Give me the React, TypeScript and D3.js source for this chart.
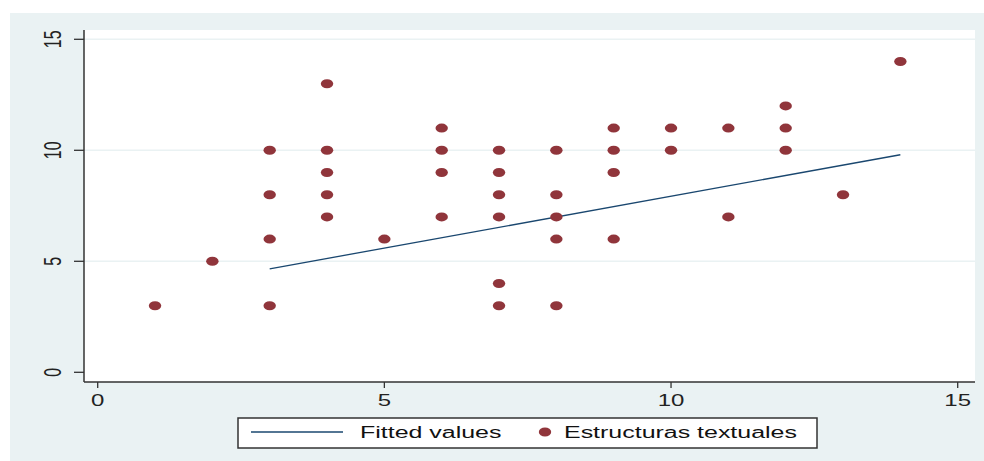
import React, { useRef, useEffect } from 'react';
import * as d3 from 'd3';

// Scatter data: x = category score, y = Estructuras textuales
const pointX = [1, 2, 3, 3, 3, 3, 4, 4, 4, 4, 4, 5, 6, 6, 6, 6, 7, 7, 7, 7, 7, 7, 8, 8, 8, 8, 8, 9, 9, 9, 9, 10, 10, 11, 11, 12, 12, 12, 13, 14];
const pointY = [3, 5, 10, 8, 6, 3, 13, 10, 9, 8, 7, 6, 11, 10, 9, 7, 10, 9, 8, 7, 4, 3, 10, 8, 7, 6, 3, 11, 10, 9, 6, 11, 10, 11, 7, 12, 11, 10, 8, 14];

// Fitted values line (endpoints)
const fitX = [3, 14];
const fitY = [4.66, 9.8];

const xTicks = [0, 5, 10, 15];
const yTicks = [0, 5, 10, 15];
const gridTicks = [5, 10, 15];

const legendLabels = ['Fitted values', 'Estructuras textuales'];

const BG = '#eaf2f3';
const MARKER = '#90353b';
const LINE = '#1a476f';
const INK = '#222';
const STRETCH = 1.5;

const App = () => {
  const svgRef = useRef<SVGSVGElement>(null);

  useEffect(() => {
    const svg = d3.select(svgRef.current);
    svg.selectAll('*').remove();

    const W = 984;
    const H = 461;
    const plot = { left: 84, top: 30, right: 975, bottom: 382 };

    const x = d3.scaleLinear().domain([0, 15]).range([97.7, 957.7]);
    const y = d3.scaleLinear().domain([0, 15]).range([372.3, 39.3]);

    // outer background
    svg.append('rect').attr('x', 10).attr('y', 13).attr('width', W - 10).attr('height', H - 13).attr('fill', BG);

    // plot region
    svg.append('rect')
      .attr('x', plot.left).attr('y', plot.top)
      .attr('width', plot.right - plot.left).attr('height', plot.bottom - plot.top)
      .attr('fill', 'white');

    // grid lines
    svg.append('g').selectAll('line')
      .data(gridTicks)
      .enter()
      .append('line')
      .attr('x1', plot.left).attr('x2', plot.right)
      .attr('y1', d => y(d)).attr('y2', d => y(d))
      .attr('stroke', BG)
      .attr('stroke-width', 1.5);

    // fitted line
    const fitData = fitX.map((v, i) => [v, fitY[i]] as [number, number]);
    svg.append('path')
      .datum(fitData)
      .attr('d', d3.line<[number, number]>().x(d => x(d[0])).y(d => y(d[1])))
      .attr('fill', 'none')
      .attr('stroke', LINE)
      .attr('stroke-width', 1.3);

    // points
    svg.append('g').selectAll('ellipse')
      .data(pointX.map((v, i) => ({ x: v, y: pointY[i] })))
      .enter()
      .append('ellipse')
      .attr('cx', d => x(d.x))
      .attr('cy', d => y(d.y))
      .attr('rx', 6.2)
      .attr('ry', 4.5)
      .attr('fill', MARKER);

    // y axis
    svg.append('line')
      .attr('x1', plot.left).attr('x2', plot.left)
      .attr('y1', plot.top).attr('y2', plot.bottom)
      .attr('stroke', '#333').attr('stroke-width', 1.5);
    const yAxis = svg.append('g');
    yAxis.selectAll('line')
      .data(yTicks)
      .enter()
      .append('line')
      .attr('x1', 74).attr('x2', plot.left)
      .attr('y1', d => y(d)).attr('y2', d => y(d))
      .attr('stroke', '#333').attr('stroke-width', 1.3);
    yAxis.selectAll('text')
      .data(yTicks)
      .enter()
      .append('text')
      .attr('transform', d => `translate(61,${y(d)}) scale(${STRETCH},1) rotate(-90)`)
      .attr('text-anchor', 'middle')
      .style('font-family', 'Liberation Sans, Arial, sans-serif')
      .style('font-size', '16px')
      .style('fill', INK)
      .text(d => d);

    // x axis
    svg.append('line')
      .attr('x1', plot.left).attr('x2', plot.right)
      .attr('y1', plot.bottom).attr('y2', plot.bottom)
      .attr('stroke', '#333').attr('stroke-width', 1.5);
    const xAxis = svg.append('g');
    xAxis.selectAll('line')
      .data(xTicks)
      .enter()
      .append('line')
      .attr('x1', d => x(d)).attr('x2', d => x(d))
      .attr('y1', plot.bottom).attr('y2', 388)
      .attr('stroke', '#333').attr('stroke-width', 1.3);
    xAxis.selectAll('text')
      .data(xTicks)
      .enter()
      .append('text')
      .attr('transform', d => `translate(${x(d)},406) scale(${STRETCH},1)`)
      .attr('text-anchor', 'middle')
      .style('font-family', 'Liberation Sans, Arial, sans-serif')
      .style('font-size', '16px')
      .style('fill', INK)
      .text(d => d);

    // legend
    const legend = svg.append('g');
    legend.append('rect')
      .attr('x', 238).attr('y', 418).attr('width', 579).attr('height', 30)
      .attr('fill', 'white').attr('stroke', '#333').attr('stroke-width', 1.5);
    legend.append('line')
      .attr('x1', 251).attr('x2', 343).attr('y1', 432).attr('y2', 432)
      .attr('stroke', LINE).attr('stroke-width', 1.3);
    legend.append('ellipse')
      .attr('cx', 545).attr('cy', 432).attr('rx', 6.2).attr('ry', 4.5)
      .attr('fill', MARKER);
    [360, 564].forEach((lx, i) => {
      legend.append('text')
        .attr('transform', `translate(${lx},438) scale(1.56,1)`)
        .style('font-family', 'Liberation Sans, Arial, sans-serif')
        .style('font-size', '16px')
        .style('fill', '#111')
        .text(legendLabels[i]);
    });
  }, []);

  return (
    <svg
      ref={svgRef}
      width={984}
      height={461}
      style={{ position: 'absolute', left: 0, top: 0, display: 'block', background: 'white' }}
    ></svg>
  );
};

export default App;
